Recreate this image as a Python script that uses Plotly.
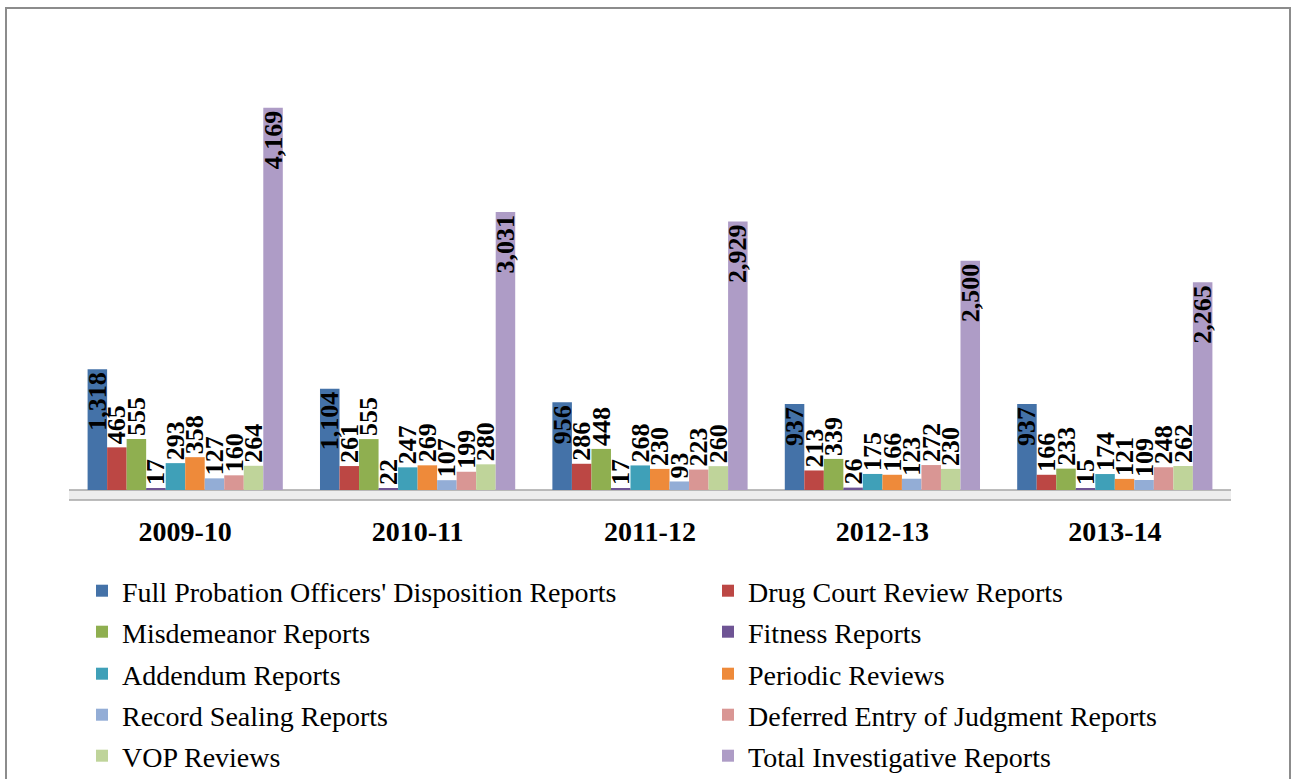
import plotly.graph_objects as go

years = ["2009-10", "2010-11", "2011-12", "2012-13", "2013-14"]

series_names = [
    "Full Probation Officers' Disposition Reports",
    "Drug Court Review Reports",
    "Misdemeanor Reports",
    "Fitness Reports",
    "Addendum Reports",
    "Periodic Reviews",
    "Record Sealing Reports",
    "Deferred Entry of Judgment Reports",
    "VOP Reviews",
    "Total Investigative Reports",
]

full_probation = [1318, 1104, 956, 937, 937]
drug_court = [465, 261, 286, 213, 166]
misdemeanor = [555, 555, 448, 339, 233]
fitness = [17, 22, 17, 26, 15]
addendum = [293, 247, 268, 175, 174]
periodic = [358, 269, 230, 166, 121]
record_sealing = [127, 107, 93, 123, 109]
deferred_entry = [160, 199, 223, 272, 248]
vop = [264, 280, 260, 230, 262]
total = [4169, 3031, 2929, 2500, 2265]

series_values = [full_probation, drug_court, misdemeanor, fitness, addendum,
                 periodic, record_sealing, deferred_entry, vop, total]

colors = ["#4472A8", "#BC4744", "#8FAF50", "#6E5494", "#3FA0B8",
          "#EE8A3A", "#93ADD6", "#D99694", "#BFD49A", "#AE9CC6"]

inside_series = {0, 9}

FONT = "Liberation Serif"
W, H = 1293, 779
ML, MR, MT, MB = 69, 62, 59, 278

pw = W - ML - MR
ph = H - MT - MB


def px_x(px):
    return (px - ML) / pw


def px_y(py):
    return (H - MB - py) / ph


fig = go.Figure()
for i, (name, vals) in enumerate(zip(series_names, series_values)):
    leg = "legend" if i == 0 else f"legend{i + 1}"
    fig.add_trace(go.Bar(
        name=name, x=years, y=vals,
        legend=leg,
        marker=dict(color=colors[i], line=dict(width=0)),
        text=[f"<b>{v:,}</b>" for v in vals],
        textposition="inside" if i in inside_series else "outside",
        insidetextanchor="end",
        textangle=-90,
        constraintext="none",
        cliponaxis=False,
        textfont=dict(family=FONT, size=26, color="black"),
    ))

shapes = [
    dict(type="rect", xref="paper", yref="paper",
         x0=px_x(6), x1=px_x(1290), y0=px_y(800), y1=px_y(8),
         line=dict(color="#8C8C8C", width=2), fillcolor="rgba(0,0,0,0)", layer="below"),
    dict(type="rect", xref="x", yref="y", x0=-0.55, x1=4.55, y0=-110, y1=0,
         line=dict(color="#A6A6A6", width=1.5), fillcolor="#EDEDED", layer="below"),
]

legend_layout = {}
col_x = [82, 708]
row_c = [593, 634, 676, 717, 758]
for i in range(10):
    key = "legend" if i == 0 else f"legend{i + 1}"
    r, c = divmod(i, 2)
    legend_layout[key] = dict(
        x=px_x(col_x[c]), y=px_y(row_c[r] - 27), xanchor="left", yanchor="top",
        font=dict(family=FONT, size=28, color="black"),
        bgcolor="rgba(0,0,0,0)", borderwidth=0,
    )

fig.update_layout(
    width=W, height=H,
    margin=dict(l=ML, r=MR, t=MT, b=MB, autoexpand=False),
    paper_bgcolor="white", plot_bgcolor="white",
    barmode="group", bargap=0.16, bargroupgap=0,
    font=dict(family=FONT, color="black"),
    xaxis=dict(type="category", range=[-0.5, 4.5], showgrid=False, zeroline=False,
               showline=False, ticks="outside", ticklen=5, tickcolor="rgba(0,0,0,0)",
               tickmode="array", tickvals=years, ticktext=[f"<b>{y}</b>" for y in years],
               tickfont=dict(family=FONT, size=28, color="black")),
    yaxis=dict(range=[-120, 4700], visible=False),
    shapes=shapes,
    showlegend=True,
    **legend_layout,
)

fig.write_html("out.html", config={"displayModeBar": False},
               post_script="document.body.style.margin='0';document.body.style.overflow='hidden';")
